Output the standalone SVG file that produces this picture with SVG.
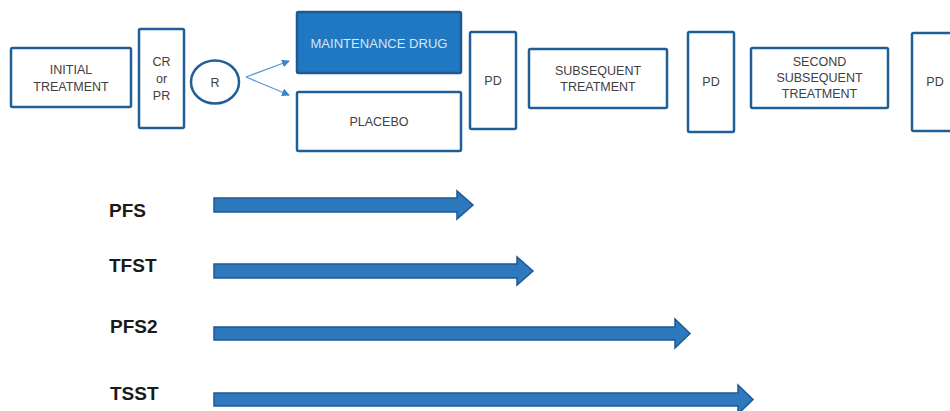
<svg xmlns="http://www.w3.org/2000/svg" width="950" height="411" viewBox="0 0 950 411">
<style>
.box{fill:#ffffff;stroke:#1f5f96;stroke-width:2.5}
.filled{fill:#1f78c1;stroke:#1c5a91;stroke-width:2.5}
.t{font-family:"Liberation Sans",Arial,sans-serif;font-size:12.5px;fill:#404040;text-anchor:middle}
.tw{fill:#d6e6f5}
.lbl{font-family:"Liberation Sans",Arial,sans-serif;font-size:19px;font-weight:bold;fill:#1a1a1a}
.big{fill:#2e78bd;stroke:#1d5a92;stroke-width:1.5}
.con{stroke:#5b9bd5;stroke-width:1.3;fill:none}
</style>
<defs>
<marker id="ah" markerWidth="8" markerHeight="8" refX="7" refY="4" orient="auto" markerUnits="userSpaceOnUse">
<path d="M0,0 L8,4 L0,8 z" fill="#3a85c9"/>
</marker>
</defs>
<rect width="950" height="411" fill="#ffffff"/>
<g id="initial-treatment">
<rect class="box" x="11" y="48" width="120" height="59" rx="1.5"/>
<text class="t" x="71" y="74">INITIAL</text>
<text class="t" x="71" y="91">TREATMENT</text>
</g>
<g id="cr-or-pr">
<rect class="box" x="139" y="29" width="45" height="99" rx="1.5"/>
<text class="t" x="161.5" y="66">CR</text>
<text class="t" x="161.5" y="83">or</text>
<text class="t" x="161.5" y="99.5">PR</text>
</g>
<g id="randomize">
<ellipse class="box" cx="215" cy="82" rx="24" ry="21.5"/>
<text class="t" x="215" y="86.5">R</text>
</g>
<g id="maintenance-drug">
<rect class="filled" x="297" y="12" width="164" height="61" rx="1.5"/>
<text class="t tw" x="379" y="47.5" textLength="137" lengthAdjust="spacingAndGlyphs">MAINTENANCE DRUG</text>
</g>
<g id="placebo">
<rect class="box" x="297" y="92" width="164" height="59" rx="1.5"/>
<text class="t" x="379" y="126">PLACEBO</text>
</g>
<g id="pd1">
<rect class="box" x="470" y="32" width="46" height="97" rx="1.5"/>
<text class="t" x="493" y="85">PD</text>
</g>
<g id="subsequent-treatment">
<rect class="box" x="529" y="49" width="138" height="59" rx="1.5"/>
<text class="t" x="598" y="75">SUBSEQUENT</text>
<text class="t" x="598" y="91">TREATMENT</text>
</g>
<g id="pd2">
<rect class="box" x="688" y="32" width="46" height="100" rx="1.5"/>
<text class="t" x="711" y="86">PD</text>
</g>
<g id="second-subsequent-treatment">
<rect class="box" x="751" y="48" width="137" height="60" rx="1.5"/>
<text class="t" x="819.5" y="65.5">SECOND</text>
<text class="t" x="819.5" y="82">SUBSEQUENT</text>
<text class="t" x="819.5" y="98">TREATMENT</text>
</g>
<g id="pd3">
<rect class="box" x="912" y="33" width="46" height="98" rx="1.5"/>
<text class="t" x="935" y="86">PD</text>
</g>
<g id="connectors">
<line class="con" x1="246" y1="77" x2="289" y2="61" marker-end="url(#ah)"/>
<line class="con" x1="246" y1="77" x2="289" y2="95" marker-end="url(#ah)"/>
</g>
<g id="timelines">
<g id="pfs">
<text class="lbl" x="109" y="217">PFS</text>
<polygon class="big" points="214,198 457,198 457,191 473,205 457,219 457,212 214,212"/>
</g>
<g id="tfst">
<text class="lbl" x="109" y="272">TFST</text>
<polygon class="big" points="214,264 517,264 517,257 533,271 517,285 517,278 214,278"/>
</g>
<g id="pfs2">
<text class="lbl" x="110" y="333">PFS2</text>
<polygon class="big" points="214,327 675,327 675,319 690,333.5 675,348 675,340 214,340"/>
</g>
<g id="tsst">
<text class="lbl" x="110" y="400">TSST</text>
<polygon class="big" points="214,393 738,393 738,385 753,399.5 738,414 738,406 214,406"/>
</g>
</g>
</svg>
